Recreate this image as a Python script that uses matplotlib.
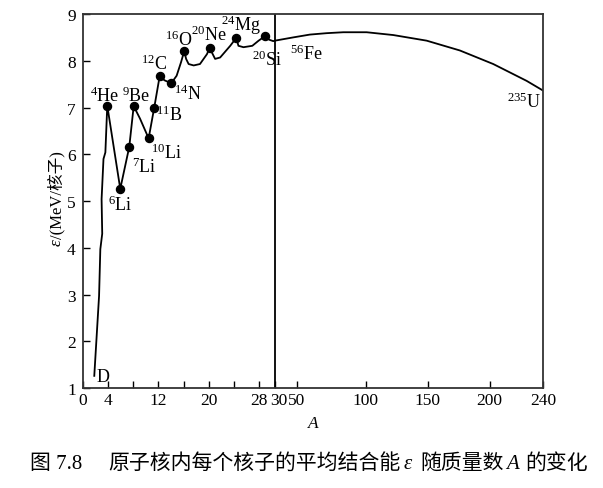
import numpy as np
import matplotlib
matplotlib.use('Agg')
import matplotlib.pyplot as plt
from matplotlib.ticker import FixedLocator, NullFormatter

plt.rcParams['font.family'] = ['Liberation Serif', 'Noto Sans CJK SC']
plt.rcParams['mathtext.fontset'] = 'custom'
plt.rcParams['mathtext.rm'] = 'Liberation Serif'
plt.rcParams['mathtext.it'] = 'Liberation Serif:italic'

# 平均结合能曲线 (A, ε)
curve_A = [1.84, 2.6, 2.8, 3.1, 3.0, 3.3, 3.6, 3.9,
           5.96, 7.39, 8.09, 9.1, 10.46, 11.35, 12.21, 13.0, 14.05,
           14.9, 15.6, 16.11, 16.4, 16.8, 17.6, 18.6, 19.7, 20.14,
           21.0, 21.8, 23.4, 24.35, 24.7, 25.5, 26.9, 27.9, 28.76,
           29.27, 29.78, 30, 46.9, 59.6, 71.7, 83.8, 100.8, 122.3,
           149.2, 176, 202.7, 227.6, 240]
curve_E = [1.26, 2.97, 3.97, 4.3, 5.04, 5.9, 6.04, 7.04,
           5.26, 6.16, 7.03, 6.76, 6.34, 7.0, 7.67, 7.58, 7.52,
           7.68, 7.97, 8.21, 8.04, 7.93, 7.9, 7.93, 8.14, 8.27,
           8.04, 8.07, 8.32, 8.49, 8.32, 8.29, 8.32, 8.43, 8.53,
           8.45, 8.42, 8.43, 8.50, 8.56, 8.59, 8.61, 8.61, 8.55,
           8.43, 8.22, 7.93, 7.57, 7.36]

# 黑点标出的核
dot_A = [3.9, 5.96, 7.39, 8.09, 10.46, 11.35, 12.21, 14.05, 16.11, 20.14, 24.35, 28.76]
dot_E = [7.04, 5.26, 6.16, 7.03, 6.34, 7.0, 7.67, 7.52, 8.21, 8.27, 8.49, 8.53]

# 核素标注 (文字, A, ε)
nuclide_labels = [
    ('D', 2.27, 1.15),
    ('$^{4}$He', 1.2, 7.14),
    ('$^{6}$Li', 4.0, 4.81),
    ('$^{7}$Li', 7.9, 5.62),
    ('$^{9}$Be', 6.2, 7.14),
    ('$^{10}$Li', 10.9, 5.92),
    ('$^{11}$B', 11.7, 6.73),
    ('$^{12}$C', 9.2, 7.82),
    ('$^{14}$N', 14.5, 7.18),
    ('$^{16}$O', 13.1, 8.34),
    ('$^{20}$Ne', 17.2, 8.44),
    ('$^{24}$Mg', 21.9, 8.66),
    ('$^{20}$Si', 26.8, 7.91),
    ('$^{56}$Fe', 43.5, 8.04),
    ('$^{235}$U', 213.0, 7.01),
]

xticks = [0, 4, 12, 20, 28, 50, 100, 150, 200, 240]
xtick_labels = ['0', '4', '12', '20', '28', '50', '100', '150', '200', '240']
xminor = [8, 16, 24, 30]
yticks = [1, 2, 3, 4, 5, 6, 7, 8, 9]

# 分段的横轴：0~30 放大，30~240 压缩
knot_A = [0, 28, 30, 50, 100, 150, 200, 240]
knot_u = [0, 0.3834, 0.4175, 0.4646, 0.6144, 0.7490, 0.8836, 1.0]


def fwd(a):
    return np.interp(a, knot_A, knot_u)


def inv(u):
    return np.interp(u, knot_u, knot_A)


fig = plt.figure(figsize=(6.03, 4.89), dpi=100)
ax = fig.add_axes([0.1371, 0.2045, 0.7638, 0.7648])
ax.set_xscale('function', functions=(fwd, inv))
ax.set_xlim(0, 240)
ax.set_ylim(1, 9)

ax.plot(curve_A, curve_E, color='black', lw=1.3)
ax.plot(dot_A, dot_E, 'o', color='black', ms=5.8)
ax.axvline(30, color='black', lw=1.3)

for txt, a, e in nuclide_labels:
    ax.text(a, e, txt, ha='left', va='baseline', fontsize=13)

ax.xaxis.set_major_locator(FixedLocator(xticks))
ax.set_xticklabels(xtick_labels)
ax.xaxis.set_minor_locator(FixedLocator(xminor))
ax.xaxis.set_minor_formatter(NullFormatter())
ax.set_yticks(yticks)

ax.tick_params(axis='both', which='both', direction='in', length=5, width=1,
               top=False, right=False, labelsize=12.5, colors='black')
ax.tick_params(axis='x', pad=3)
ax.tick_params(axis='y', pad=5)

# 分界处的 "30" 稍向右放，避免与 28 相挤
ax.text(33.6, -0.0112, '30', transform=ax.get_xaxis_transform(),
        ha='center', va='top', fontsize=12.5)

for s in ax.spines.values():
    s.set_color('#333333')
    s.set_linewidth(1.3)

ax.set_xlabel('A', fontstyle='italic', fontsize=12.5)
ax.xaxis.set_label_coords(0.5, -0.072)

# 纵轴标题：ε 为斜体
ax.text(-0.047, 0.40, 'ε', transform=ax.transAxes, rotation=90,
        rotation_mode='anchor', ha='right', va='baseline',
        fontsize=12.5, fontstyle='italic')
ax.text(-0.047, 0.40, '/(MeV/核子)', transform=ax.transAxes, rotation=90,
        rotation_mode='anchor', ha='left', va='baseline', fontsize=12)

# 图题
W = 603.0
cap_y = 1 - 469 / 489.0
caption = [
    ('图 7.8', 30, 'normal'),
    ('原子核内每个核子的平均结合能', 108, 'normal'),
    ('ε', 404, 'italic'),
    ('随质量数', 420, 'normal'),
    ('A', 506, 'italic'),
    ('的变化', 525, 'normal'),
]
for txt, px, style in caption:
    fig.text(px / W, cap_y, txt, ha='left', va='baseline', fontsize=15,
             fontstyle=style)

fig.savefig('out.png', dpi=100)
